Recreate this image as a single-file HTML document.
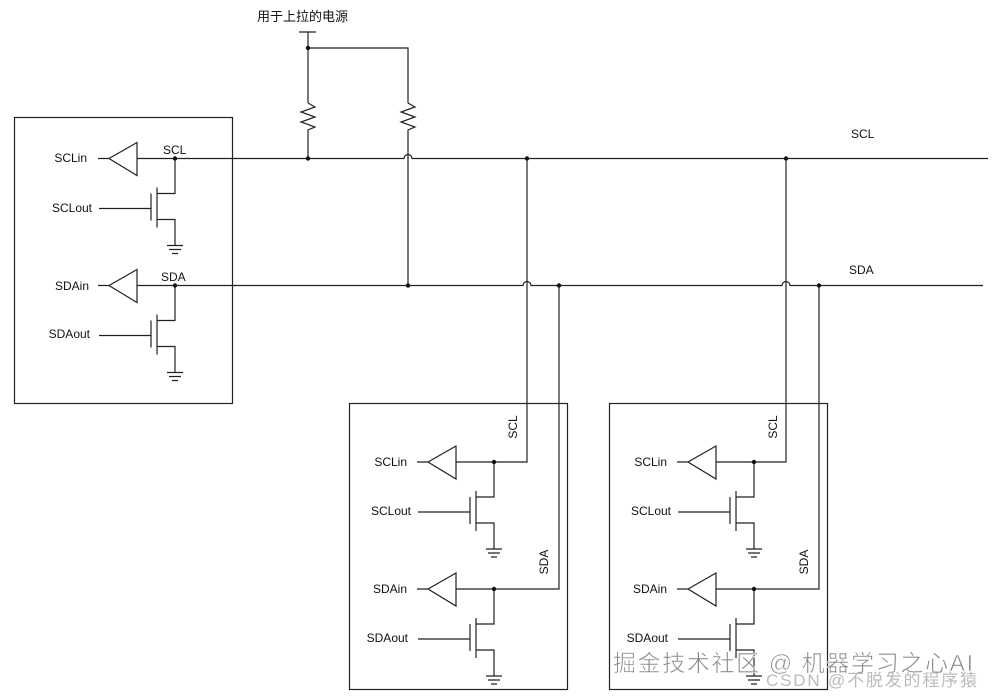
<!DOCTYPE html>
<html><head><meta charset="utf-8"><style>
html,body{margin:0;padding:0;background:#fff;}
svg{display:block;}
text{font-family:"Liberation Sans","Noto Sans CJK SC",sans-serif;fill:#111;}
</style></head><body>
<svg width="993" height="696" viewBox="0 0 993 696" xmlns="http://www.w3.org/2000/svg">
<defs>
<g id="dev" fill="none" stroke="#222" stroke-width="1.2">
  <path d="M-77 0 H-66 M-66 0 L-38 -16 V17 Z M-38 0 H0"/>
  <path d="M0 0 V35 H-18 M-18 29 V69 M-24 35 V62 M-76 50 H-24 M-18 61 H0 V87"/>
  <path d="M-8 87 H8 M-6 91 H6 M-3 95 H3"/>
  <circle cx="0" cy="0" r="2.2" fill="#111" stroke="none"/>
</g>
</defs>
<g fill="none" stroke="#222" stroke-width="1.2">
  <rect x="14.5" y="117.5" width="218" height="286"/>
  <rect x="349.5" y="403.5" width="218" height="286"/>
  <rect x="609.5" y="403.5" width="218" height="286"/>
  <path d="M175 158.5 H404 A4 4 0 0 1 412 158.5 H988"/>
  <path d="M175 285.5 H523 A4 4 0 0 1 531 285.5 H782 A4 4 0 0 1 790 285.5 H983"/>
  <path d="M299 32 H316 M308 32 V103 M308 48 H408 V103"/>
  <path d="M308 103 L315 107 L301 112 L315 117 L301 122 L315 127 L308 130 V158"/>
  <path d="M408 103 L415 107 L401 112 L415 117 L401 122 L415 127 L408 130 V285"/>
  <path d="M527 158 V462 H494"/>
  <path d="M559 285 V589 H494"/>
  <path d="M786 158 V462 H754"/>
  <path d="M819 285 V589 H754"/>
</g>
<g fill="#111">
  <circle cx="308" cy="48" r="2.2"/><circle cx="308" cy="158.5" r="2.2"/>
  <circle cx="408" cy="285.5" r="2.2"/><circle cx="527" cy="158.5" r="2.2"/>
  <circle cx="559" cy="285.5" r="2.2"/><circle cx="786" cy="158.5" r="2.2"/>
  <circle cx="819" cy="285.5" r="2.2"/>
</g>
<use href="#dev" x="175" y="158.5"/>
<use href="#dev" x="175" y="285.5"/>
<use href="#dev" x="494" y="462"/>
<use href="#dev" x="494" y="589"/>
<use href="#dev" x="754" y="462"/>
<use href="#dev" x="754" y="589"/>
<g font-size="12">
  <text x="257" y="21" font-size="13">用于上拉的电源</text>
  <text x="163" y="154">SCL</text>
  <text x="161" y="281">SDA</text>
  <text x="851" y="138">SCL</text>
  <text x="849" y="274">SDA</text>
  <text x="87" y="162" text-anchor="end">SCLin</text>
  <text x="92" y="212" text-anchor="end">SCLout</text>
  <text x="89" y="290" text-anchor="end">SDAin</text>
  <text x="90" y="338" text-anchor="end">SDAout</text>
  <text x="407" y="466" text-anchor="end">SCLin</text>
  <text x="411" y="515" text-anchor="end">SCLout</text>
  <text x="407" y="593" text-anchor="end">SDAin</text>
  <text x="408" y="642" text-anchor="end">SDAout</text>
  <text x="667" y="466" text-anchor="end">SCLin</text>
  <text x="671" y="515" text-anchor="end">SCLout</text>
  <text x="667" y="593" text-anchor="end">SDAin</text>
  <text x="668" y="642" text-anchor="end">SDAout</text>
  <text transform="translate(517,427) rotate(-90)" text-anchor="middle">SCL</text>
  <text transform="translate(548,562) rotate(-90)" text-anchor="middle">SDA</text>
  <text transform="translate(777,427) rotate(-90)" text-anchor="middle">SCL</text>
  <text transform="translate(808,562) rotate(-90)" text-anchor="middle">SDA</text>
</g>
<text x="613" y="671" font-size="23" textLength="360" style="fill:#888;stroke:#fff;stroke-width:0.6">掘金技术社区 @ 机器学习之心AI</text>
<text x="766" y="686" font-size="17" textLength="211" style="fill:#bbb">CSDN @不脱发的程序猿</text>
</svg>
</body></html>
